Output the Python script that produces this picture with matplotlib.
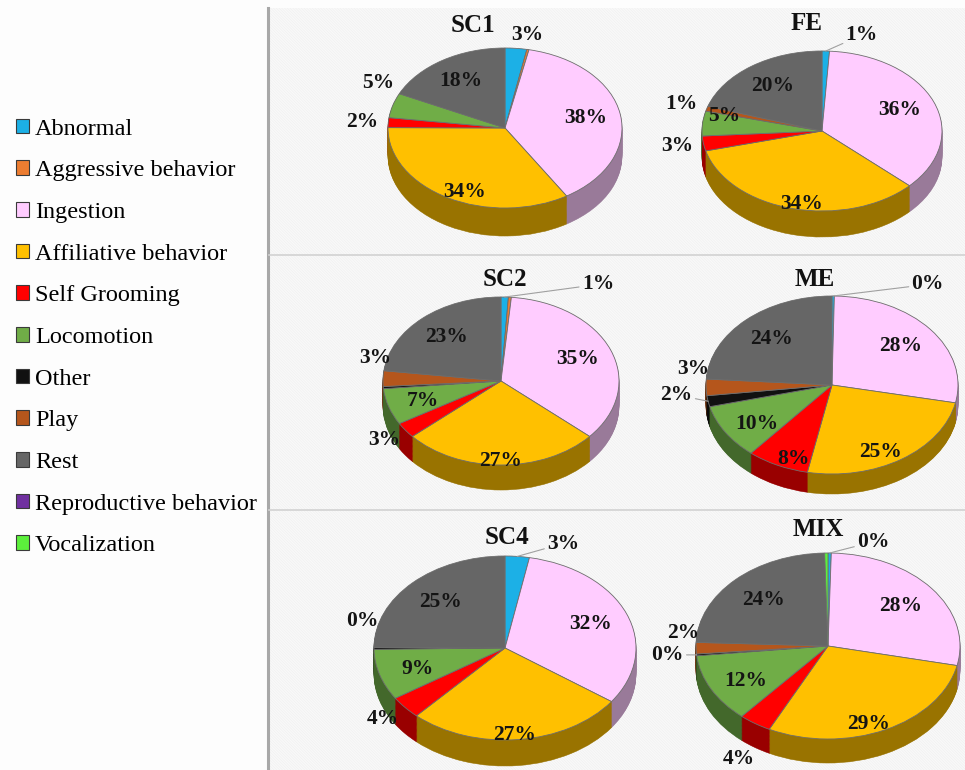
import matplotlib.pyplot as plt
import matplotlib.colors as mcolors
from matplotlib.patches import Rectangle, Patch
from matplotlib.lines import Line2D
import numpy as np

W, H = 965, 770
plt.rcParams['font.family'] = ['Liberation Serif', 'DejaVu Serif']
plt.rcParams['hatch.linewidth'] = 1.0

categories = ['Abnormal', 'Aggressive behavior', 'Ingestion', 'Affiliative behavior',
              'Self Grooming', 'Locomotion', 'Other', 'Play', 'Rest',
              'Reproductive behavior', 'Vocalization']
colors = ['#1cb0e6', '#ed7d31', '#ffccff', '#ffc000', '#ff0000', '#70ad47',
          '#111111', '#b5561c', '#666666', '#7030a0', '#5cf03c']

# percentage of time per behaviour, same order as categories
sc1 = [3, 0.3, 38, 34, 2, 5, 0, 0, 18, 0, 0]
fe = [1, 0, 36, 34, 3, 5, 0, 1, 20, 0, 0]
sc2 = [1, 0.4, 35, 27, 3, 7, 0.4, 3, 23, 0, 0]
me = [0.3, 0, 28, 25, 8, 10, 2, 3, 24, 0, 0]
sc4 = [3, 0, 32, 27, 4, 9, 0.3, 0, 25, 0, 0]
mix = [0.4, 0, 28, 29, 4, 12, 0.3, 2, 24, 0, 0.4]

groups = ['SC1', 'FE', 'SC2', 'ME', 'SC4', 'MIX']
values = dict(zip(groups, [sc1, fe, sc2, me, sc4, mix]))
# slivers drawn without a data label
unlabelled = {'SC1': [1], 'SC2': [1, 6], 'MIX': [10]}

# pie geometry in pixels: centre x, centre y, x radius, y radius, depth
geom = {
    'SC1': (505, 128, 117, 80, 28),
    'FE': (822, 131, 120, 80, 26),
    'SC2': (501, 381, 118, 84, 25),
    'ME': (832, 385, 126, 89, 20),
    'SC4': (505, 648, 131, 92, 26),
    'MIX': (828, 646, 132, 93, 24),
}
title_pos = {'SC1': (473, 26), 'FE': (807, 23), 'SC2': (505, 280),
             'ME': (815, 280), 'SC4': (507, 537), 'MIX': (818, 530)}
# labels pulled out with a leader line: offset from the rim (radius units)
callouts = {('FE', 0): (0.30, 0.20), ('SC2', 0): (0.79, 0.15),
            ('ME', 0): (0.75, 0.13), ('SC4', 0): (0.35, 0.14),
            ('MIX', 0): (0.33, 0.12), ('ME', 6): (-0.25, 0.07),
            ('MIX', 6): (-0.22, 0.0)}
# small pixel shifts for crowded labels (+y is down)
nudge = {('SC1', 5): (10, -18), ('SC1', 0): (9, 3), ('SC2', 7): (18, -20),
         ('ME', 7): (15, -19), ('SC4', 6): (17, -28), ('MIX', 7): (16, -16),
         ('MIX', 4): (0, 20), ('FE', 5): (48, -6)}

fig = plt.figure(figsize=(W / 100, H / 100), dpi=100)
fig.patch.set_facecolor('#fdfdfd')

# shaded chart area on the right
bg = Rectangle((268 / W, 0), 1 - 268 / W, 1 - 8 / H, transform=fig.transFigure,
               facecolor='#efefef', edgecolor='#f9f9f9', linewidth=0,
               hatch='\\' * 12, zorder=-5)
fig.patches.append(bg)
fig.add_artist(Line2D([268 / W, 268 / W], [0, 1 - 8 / H], color='#a8a8a8',
                      lw=2.2, zorder=-4))
for yy in (255, 510):
    fig.add_artist(Line2D([269 / W, 1], [1 - yy / H] * 2, color='#d2d2d2',
                          lw=1.2, zorder=-4))

label_font = dict(fontsize=15.5, fontweight='bold', color='#141414')


def darker(c, f=0.6):
    r, g, b = mcolors.to_rgb(c)
    return (r * f, g * f, b * f)


for name in groups:
    cx, cy, rx, ry, depth = geom[name]
    pad = 1.7
    ax = fig.add_axes([(cx - pad * rx) / W, 1 - (cy + pad * ry) / H,
                       2 * pad * rx / W, 2 * pad * ry / H])
    ax.patch.set_visible(False)
    vals = values[name]
    idx = [i for i, v in enumerate(vals) if v > 0]
    v = [vals[i] for i in idx]
    cols = [colors[i] for i in idx]
    d = depth / ry

    # side wall: stack of darker pies shifted downwards
    n = 30
    for k in range(n, 0, -1):
        side, _ = ax.pie(v, colors=[darker(c) for c in cols], startangle=90,
                         counterclock=False, center=(0, -d * k / n),
                         wedgeprops=dict(linewidth=0.4))
        for w in side:
            w.set_edgecolor(w.get_facecolor())
    wedges, _ = ax.pie(v, colors=cols, startangle=90, counterclock=False,
                       wedgeprops=dict(edgecolor='#6e6e6e', linewidth=0.6))

    skip = unlabelled.get(name, [])
    for w, i, val in zip(wedges, idx, v):
        if i in skip:
            continue
        t = np.radians((w.theta1 + w.theta2) / 2)
        c, s = np.cos(t), np.sin(t)
        txt = f'{round(val)}%'
        if (name, i) in callouts:
            dx, dy = callouts[(name, i)]
            ax.annotate(txt, xy=(c, s), xytext=(c + dx, s + dy), ha='center',
                        va='center', arrowprops=dict(arrowstyle='-', color='#a0a0a0',
                                                     lw=0.8, shrinkA=0, shrinkB=0),
                        **label_font)
            continue
        if val >= 7:
            x, y = 0.7 * c, (0.7 + 0.25 * max(0, -s)) * s
        else:
            x, y = 1.22 * c, 1.2 * s
        nx, ny = nudge.get((name, i), (0, 0))
        ax.text(x + nx / rx, y - ny / ry, txt, ha='center', va='center', **label_font)

    ax.set_aspect('auto')
    ax.set_xlim(-pad, pad)
    ax.set_ylim(-pad, pad)
    ax.axis('off')

    tx, ty = title_pos[name]
    fig.text(tx / W, 1 - ty / H, name, ha='center', va='center', fontsize=18,
             fontweight='bold', color='#111111')

handles = [Patch(facecolor=c, edgecolor='#3a3a3a', linewidth=0.8) for c in colors]
fig.legend(handles=handles, labels=categories, loc='upper left',
           bbox_to_anchor=(6 / W, 1 - 109 / H), frameon=False, fontsize=17.5,
           handlelength=0.55, handleheight=0.55, handletextpad=0.25,
           labelspacing=0.85, borderaxespad=0)

fig.savefig('out.png', dpi=100, facecolor=fig.get_facecolor())
